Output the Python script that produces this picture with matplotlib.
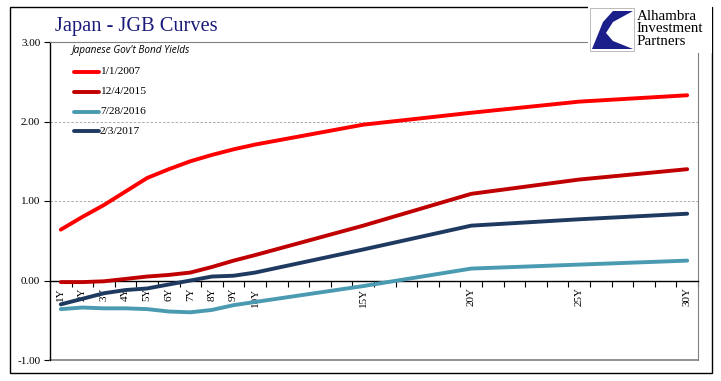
import matplotlib
matplotlib.use("Agg")
import matplotlib.pyplot as plt
import numpy as np
from matplotlib.patches import Rectangle, Polygon

# ---- data ----
categories = [f"{i}Y" for i in range(1, 31)]
tenors = ["1Y", "2Y", "3Y", "4Y", "5Y", "6Y", "7Y", "8Y", "9Y", "10Y", "15Y", "20Y", "25Y", "30Y"]
series_names = ["1/1/2007", "12/4/2015", "7/28/2016", "2/3/2017"]
y_2007 = [0.64, 0.80, 0.95, 1.12, 1.29, 1.40, 1.50, 1.58, 1.65, 1.71, 1.96, 2.11, 2.25, 2.33]
y_2015 = [-0.02, -0.02, -0.01, 0.02, 0.05, 0.07, 0.10, 0.17, 0.25, 0.32, 0.69, 1.09, 1.27, 1.40]
y_2016 = [-0.36, -0.34, -0.35, -0.35, -0.36, -0.39, -0.40, -0.37, -0.31, -0.27, -0.07, 0.15, 0.20, 0.25]
y_2017 = [-0.30, -0.23, -0.16, -0.12, -0.10, -0.05, 0.00, 0.05, 0.06, 0.10, 0.39, 0.69, 0.77, 0.84]
labeled_ticks = ["1Y", "2Y", "3Y", "4Y", "5Y", "6Y", "7Y", "8Y", "9Y", "10Y", "15Y", "20Y", "25Y", "30Y"]
yticks = [-1.0, 0.0, 1.0, 2.0, 3.0]
colors = ["#ff0000", "#c00000", "#4a9bb1", "#1f3a60"]
series = [y_2007, y_2015, y_2016, y_2017]

W, H = 721, 381
fig = plt.figure(figsize=(W / 100, H / 100), dpi=100)
fig.patch.set_facecolor("white")

def fx(px): return px / W
def fy(py): return 1 - py / H

ax = fig.add_axes([fx(50), fy(360), fx(698) - fx(50), fy(42) - fy(360)])

xpos = [categories.index(t) + 1 for t in tenors]
for name, vals, c in zip(series_names, series, colors):
    ax.plot(xpos, vals, color=c, lw=2.8, solid_capstyle="round", solid_joinstyle="round", zorder=3)

ax.set_xlim(0.5, 30.5)
ax.set_ylim(-1, 3)
ax.set_yticks(yticks)
ax.set_yticklabels([f"{v:.2f}" for v in yticks], family="Liberation Serif", fontsize=8)
for v in [1.0, 2.0]:
    ax.axhline(v, color="#a0a0a0", lw=0.6, ls=(0, (3, 2)), zorder=1)

# x-axis on zero
ax.spines["bottom"].set_position(("data", 0))
ax.spines["bottom"].set_color("black")
ax.spines["bottom"].set_linewidth(1.0)
ax.spines["left"].set_color("black")
ax.spines["left"].set_linewidth(1.0)
ax.spines["top"].set_color("#808080")
ax.spines["right"].set_color("#808080")
ax.axhline(-1, color="#808080", lw=1.2, clip_on=False)

major = [categories.index(t) + 1 for t in labeled_ticks]
ax.set_xticks(major)
ax.set_xticklabels(labeled_ticks, rotation=90, family="Liberation Serif", fontsize=8)
ax.set_xticks(np.arange(0.5, 31, 1), minor=True)
ax.tick_params(axis="x", which="major", length=0, pad=5)
ax.tick_params(axis="x", which="minor", length=4, direction="out", width=0.8)
ax.tick_params(axis="y", length=4, direction="out", width=0.8, pad=3)

# legend (manual, Excel style)
fig.text(fx(72), fy(50), "Japanese Gov't Bond Yields", fontsize=7.2, style="italic",
         family="Open Sans", va="center", ha="left")
leg_y = [72, 92, 112, 131]
for name, c, yy in zip(series_names, colors, leg_y):
    fig.add_artist(plt.Line2D([fx(74), fx(99)], [fy(yy), fy(yy)], color=c, lw=2.8,
                              solid_capstyle="round"))
    fig.text(fx(100), fy(yy), name, family="Liberation Serif", fontsize=8.2, va="center", ha="left")

# title
fig.text(fx(55), fy(27), "Japan - JGB Curves", family="Liberation Serif", fontsize=14.7,
         color="#1a1a7a", va="center", ha="left")

# outer border
fig.add_artist(Rectangle((fx(10), fy(373)), fx(712) - fx(10), fy(7) - fy(373),
                         fill=False, edgecolor="black", lw=1.0, transform=fig.transFigure))

# logo
fig.add_artist(Rectangle((fx(588), fy(53)), fx(712) - fx(588), fy(0) - fy(53),
                         facecolor="white", edgecolor="none", transform=fig.transFigure, zorder=5))
fig.add_artist(Rectangle((fx(590), fy(51)), fx(634) - fx(590), fy(8) - fy(51),
                         facecolor="white", edgecolor="#b0b0b0", lw=0.6, transform=fig.transFigure, zorder=6))
poly = [(633, 11), (613, 11), (603, 22), (592, 49), (633, 49), (613, 41), (606, 33), (613, 22)]
fig.add_artist(Polygon([(fx(a), fy(b)) for a, b in poly], closed=True, facecolor="#1a1f8a",
                       edgecolor="none", transform=fig.transFigure, zorder=7))
fig.text(fx(637), fy(29), "Alhambra\nInvestment\nPartners", family="Liberation Serif", fontsize=10.8,
         linespacing=0.95, va="center", ha="left", zorder=8)

fig.savefig("out.png", dpi=100)
